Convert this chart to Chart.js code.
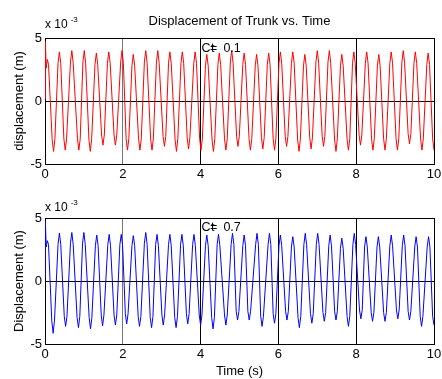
<!DOCTYPE html>
<html><head><meta charset="utf-8">
<script src="https://cdn.jsdelivr.net/npm/chart.js@4/dist/chart.umd.min.js"></script>
<style>
html,body{margin:0;padding:0;background:#fff;width:442px;height:379px;overflow:hidden;}
#c1{position:absolute;left:0;top:0;}
#c2{position:absolute;left:0;top:185px;}
</style></head><body>
<canvas id="c1" width="442" height="185" style="width:442px;height:185px"></canvas>
<canvas id="c2" width="442" height="194" style="width:442px;height:194px"></canvas>
<script>
// ---- data (displacement in units of 1e-3 m) ----
const title = 'Displacement of Trunk vs. Time';
const xTickLabels = [0, 2, 4, 6, 8, 10];
const yTickLabels = [-5, 0, 5];
const multiplierText = 'x 10';
const multiplierExp = '-3';
const labelTop = 'Ct= 0.1';
const labelBottom = 'Ct= 0.7';

const timeRed = [0.00,0.01,0.03,0.06,0.09,
0.185,0.22,0.255, 0.335,0.37,0.405, 0.485,0.52,0.555, 0.655,0.69,0.725, 0.835,0.87,0.905,
0.975,1.01,1.045, 1.13,1.165,1.20, 1.285,1.32,1.355, 1.455,1.49,1.525, 1.605,1.64,1.675,
1.775,1.81,1.845, 1.945,1.98,2.015, 2.085,2.12,2.155, 2.235,2.27,2.305, 2.405,2.44,2.475,
2.555,2.59,2.625, 2.715,2.75,2.785, 2.865,2.90,2.935, 3.035,3.07,3.105, 3.175,3.21,3.245,
3.345,3.38,3.415, 3.495,3.53,3.565, 3.655,3.69,3.725, 3.825,3.86,3.895, 3.975,4.01,4.045,
4.125,4.16,4.195, 4.295,4.33,4.365, 4.445,4.48,4.515, 4.615,4.65,4.685, 4.765,4.80,4.835,
4.925,4.96,4.995, 5.085,5.12,5.155, 5.245,5.28,5.315, 5.405,5.44,5.475, 5.565,5.60,5.635,
5.715,5.75,5.785, 5.865,5.90,5.935, 6.015,6.05,6.085, 6.175,6.21,6.245, 6.335,6.37,6.405,
6.495,6.53,6.565, 6.645,6.68,6.715, 6.805,6.84,6.875, 6.965,7.00,7.035, 7.125,7.16,7.195,
7.275,7.31,7.345, 7.445,7.48,7.515, 7.595,7.63,7.665, 7.765,7.80,7.835, 7.905,7.94,7.975,
8.075,8.11,8.145, 8.235,8.27,8.305, 8.395,8.43,8.465, 8.545,8.58,8.615, 8.705,8.74,8.775,
8.865,8.90,8.935, 9.025,9.06,9.095, 9.175,9.21,9.245, 9.335,9.37,9.405, 9.485,9.52,9.555,
9.655,9.69,9.725, 9.815,9.85,9.885, 9.965,10.00];
const dispRed = [0.2,4.7,2.6,3.3,2.9,
-3.1,-4.0,-3.0, 3.0,3.9,3.0, -3.0,-3.9,-3.0, 3.1,4.0,3.0, -3.0,-3.9,-3.0,
3.1,4.0,3.0, -3.1,-4.0,-3.0, 2.9,3.8,2.9, -2.7,-3.5,-2.7, 3.0,3.9,3.0,
-2.7,-3.5,-2.7, 3.1,4.0,3.0, -3.0,-3.9,-3.0, 2.8,3.7,2.8, -3.0,-3.9,-3.0,
3.1,4.0,3.0, -3.0,-3.9,-3.0, 3.1,4.0,3.0, -2.8,-3.6,-2.8, 3.0,3.9,3.0,
-3.1,-4.0,-3.0, 3.0,3.9,3.0, -2.9,-3.8,-2.9, 3.0,3.9,3.0, -3.0,-3.9,-3.0,
2.8,3.7,2.8, -3.1,-4.0,-3.0, 2.9,3.8,2.9, -3.0,-3.9,-3.0, 3.1,4.0,3.0,
-2.8,-3.6,-2.8, 2.9,3.8,2.9, -3.0,-3.9,-3.0, 2.8,3.7,2.8, -2.9,-3.8,-2.9,
2.9,3.8,2.9, -3.0,-3.9,-3.0, 3.0,3.9,3.0, -2.8,-3.6,-2.8, 3.0,3.9,3.0,
-3.1,-4.0,-3.0, 2.8,3.7,2.8, -2.9,-3.8,-2.9, 3.1,4.0,3.0, -2.8,-3.6,-2.8,
3.1,4.0,3.0, -3.1,-4.0,-3.0, 2.8,3.7,2.8, -3.0,-3.9,-3.0, 3.0,3.9,3.0,
-2.7,-3.5,-2.7, 3.0,3.9,3.0, -3.0,-3.9,-3.0, 2.8,3.7,2.8, -3.0,-3.9,-3.0,
3.0,3.9,3.0, -3.0,-3.9,-3.0, 3.1,4.0,3.0, -2.6,-3.4,-2.6, 3.0,3.9,3.0,
-3.0,-3.9,-3.0, 2.9,3.8,2.9, -3.0,-3.9];

const timeBlue = [0.00,0.01,0.03,0.06,0.09,
0.175,0.21,0.245, 0.335,0.37,0.405, 0.495,0.53,0.565, 0.655,0.69,0.725, 0.825,0.86,0.895,
0.965,1.00,1.035, 1.135,1.17,1.205, 1.295,1.33,1.365, 1.445,1.48,1.515, 1.615,1.65,1.685,
1.775,1.81,1.845, 1.925,1.96,1.995, 2.065,2.10,2.135, 2.235,2.27,2.305, 2.395,2.43,2.465,
2.555,2.59,2.625, 2.705,2.74,2.775, 2.845,2.88,2.915, 3.005,3.04,3.075, 3.175,3.21,3.245,
3.335,3.37,3.405, 3.485,3.52,3.555, 3.635,3.67,3.705, 3.795,3.83,3.865, 3.965,4.00,4.035,
4.125,4.16,4.195, 4.285,4.32,4.355, 4.425,4.46,4.495, 4.615,4.65,4.685, 4.785,4.82,4.855,
4.915,4.95,4.985, 5.085,5.12,5.155, 5.215,5.25,5.285, 5.415,5.45,5.485, 5.545,5.58,5.615,
5.735,5.77,5.805, 5.865,5.90,5.935, 6.015,6.05,6.085, 6.185,6.22,6.255, 6.335,6.37,6.405,
6.505,6.54,6.575, 6.655,6.69,6.725, 6.825,6.86,6.895, 6.975,7.01,7.045, 7.145,7.18,7.215,
7.295,7.33,7.365, 7.445,7.48,7.515, 7.595,7.63,7.665, 7.765,7.80,7.835, 7.915,7.95,7.985,
8.085,8.12,8.155, 8.215,8.25,8.285, 8.385,8.42,8.455, 8.535,8.57,8.605, 8.705,8.74,8.775,
8.865,8.90,8.935, 9.035,9.07,9.105, 9.185,9.22,9.255, 9.335,9.37,9.405, 9.505,9.54,9.575,
9.645,9.68,9.715, 9.825,9.86,9.895, 9.965,10.00];
const dispBlue = [0.3,4.75,2.7,3.2,2.9,
-3.2,-4.15,-3.1, 2.9,3.8,2.9, -2.8,-3.6,-2.8, 3.0,3.85,2.9, -2.9,-3.7,-2.8,
3.0,3.85,2.9, -2.9,-3.8,-2.9, 2.8,3.65,2.8, -2.7,-3.55,-2.7, 2.9,3.7,2.8,
-2.7,-3.5,-2.7, 2.9,3.7,2.8, -2.6,-3.4,-2.6, 2.8,3.6,2.8, -2.8,-3.6,-2.8,
3.0,3.85,2.9, -2.9,-3.7,-2.8, 2.9,3.7,2.8, -2.7,-3.5,-2.7, 2.9,3.7,2.8,
-2.9,-3.7,-2.8, 2.9,3.7,2.8, -2.6,-3.4,-2.6, 2.9,3.7,2.8, -2.7,-3.5,-2.7,
2.8,3.65,2.8, -2.9,-3.8,-2.9, 2.9,3.7,2.8, -2.7,-3.5,-2.7, 2.9,3.78,2.9,
-2.4,-3.1,-2.4, 2.8,3.65,2.8, -2.4,-3.1,-2.4, 2.9,3.78,2.9, -2.8,-3.6,-2.8,
2.9,3.78,2.9, -2.6,-3.35,-2.6, 2.8,3.65,2.8, -2.4,-3.1,-2.4, 2.7,3.52,2.7,
-2.9,-3.7,-2.8, 2.9,3.78,2.9, -2.6,-3.35,-2.6, 2.9,3.78,2.9, -2.5,-3.2,-2.5,
2.8,3.65,2.8, -2.4,-3.1,-2.4, 2.6,3.4,2.6, -2.8,-3.6,-2.8, 2.9,3.78,2.9,
-2.3,-3.0,-2.3, 2.7,3.52,2.7, -2.5,-3.2,-2.5, 2.7,3.52,2.7, -2.5,-3.2,-2.5,
2.8,3.65,2.8, -2.3,-3.0,-2.3, 2.8,3.65,2.8, -2.4,-3.1,-2.4, 2.7,3.52,2.7,
-2.8,-3.6,-2.8, 2.7,3.52,2.7, -2.8,-3.5];

// ---- rendering ----
const FONT = '"Liberation Sans", Arial, Helvetica, sans-serif';
Chart.defaults.font.family = FONT;
Chart.defaults.font.size = 13;
Chart.defaults.color = '#000';

function pts(t, y) { return t.map((v, i) => ({x: v, y: y[i]})); }

const annot = {
  id: 'annot',
  afterDraw(chart, args, opts) {
    const ctx = chart.ctx;
    const ca = chart.chartArea;
    const xs = chart.scales.x, ys = chart.scales.y;
    ctx.save();
    ctx.fillStyle = '#000';
    ctx.textBaseline = 'middle';
    ctx.textAlign = 'left';
    ctx.font = '12px ' + FONT;
    const my = ca.top - opts.multOffset;
    ctx.fillText(multiplierText, ca.left, my);
    const w = ctx.measureText(multiplierText).width;
    ctx.font = '8px ' + FONT;
    ctx.fillText(multiplierExp, ca.left + w + 3, my - 5);
    // Ct label (C, t and = overlapped as in original)
    ctx.font = '12.5px ' + FONT;
    const lx = xs.getPixelForValue(4.02), ly = ys.getPixelForValue(opts.labelY);
    const parts = opts.label.split('= ');
    const cw = ctx.measureText('C').width;
    ctx.fillText('C', lx, ly);
    ctx.fillText('t', lx + cw + 0.5, ly);
    ctx.fillText('=', lx + cw - 0.5, ly);
    ctx.fillText(parts[1], lx + cw + 13, ly);
    ctx.restore();
  }
};

function makeOptions(cfg) {
  return {
    responsive: false,
    animation: false,
    devicePixelRatio: 1,
    layout: {padding: {left: 0, right: 8, top: cfg.padTop, bottom: 0}},
    plugins: {
      legend: {display: false},
      tooltip: {enabled: false},
      title: cfg.title ? {display: true, text: cfg.title, fullSize: false, color: '#000',
        font: {size: 13, weight: 'normal', family: FONT}, padding: {top: 14, bottom: 8.4}} : {display: false},
      annot: {multOffset: cfg.multOffset, label: cfg.label, labelY: cfg.labelY}
    },
    scales: {
      x: {
        type: 'linear', min: 0, max: 10,
        afterBuildTicks: s => { s.ticks = xTickLabels.map(v => ({value: v})); },
        afterFit: s => { s.height = cfg.xHeight; s.paddingRight = 0; s.paddingLeft = 0; },
        ticks: {padding: 3, color: '#000', font: {size: 13}},
        grid: {drawTicks: false, color: c => (c.tick && c.tick.value === 2) ? '#777' : '#000', lineWidth: 1},
        border: {display: true, color: '#000', width: 1},
        title: cfg.xTitle ? {display: true, text: cfg.xTitle, color: '#000', font: {size: 13}, padding: {top: 0, bottom: 0}} : {display: false}
      },
      y: {
        type: 'linear', min: -5, max: 5,
        afterBuildTicks: s => { s.ticks = yTickLabels.map(v => ({value: v})); },
        afterFit: s => { s.width = 45; },
        ticks: {padding: 3, color: '#000', font: {size: 13}},
        grid: {drawTicks: false, color: '#000', lineWidth: 1},
        border: {display: true, color: '#000', width: 1},
        title: {display: true, text: cfg.yTitle, color: '#000', font: {size: 13}, padding: {top: 11.5, bottom: 0}}
      }
    }
  };
}

new Chart(document.getElementById('c1'), {
  type: 'line',
  data: {datasets: [{data: pts(timeRed, dispRed), borderColor: '#ff0000', borderWidth: 1, pointRadius: 0, tension: 0, fill: false}]},
  options: makeOptions({padTop: 0, title: title, xHeight: 21, yTitle: 'displacement (m)', multOffset: 13, label: labelTop, labelY: 4.2}),
  plugins: [annot]
});

new Chart(document.getElementById('c2'), {
  type: 'line',
  data: {datasets: [{data: pts(timeBlue, dispBlue), borderColor: '#0000ff', borderWidth: 1, pointRadius: 0, tension: 0, fill: false}]},
  options: makeOptions({padTop: 33, title: null, xHeight: 35, xTitle: 'Time (s)', yTitle: 'Displacement (m)', multOffset: 10, label: labelBottom, labelY: 4.28}),
  plugins: [annot]
});
</script>
</body></html>
